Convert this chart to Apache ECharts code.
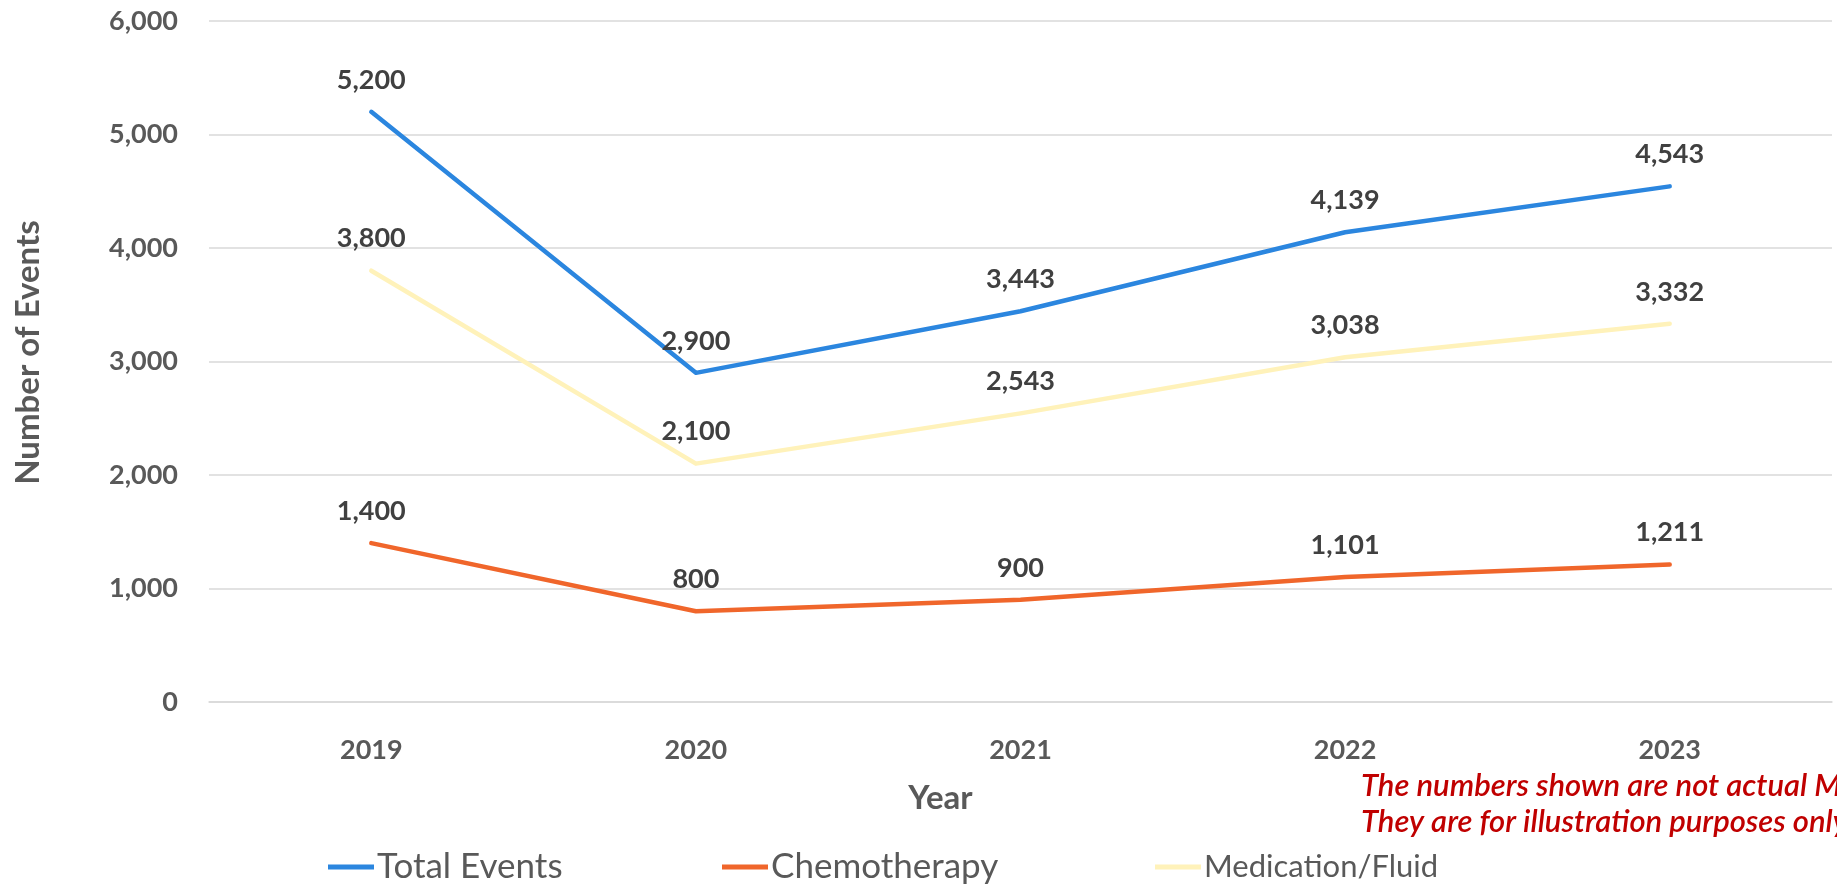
<!DOCTYPE html>
<html>
<head>
<meta charset="utf-8">
<script src="https://cdn.jsdelivr.net/npm/echarts@6/dist/echarts.min.js"></script>
<style>
  html, body { margin: 0; padding: 0; background: #ffffff; }
  #chart { width: 1837px; height: 886px; }
</style>
</head>
<body>
<div id="chart"></div>
<script>
// Yearly event counts by category
const years = ['2019', '2020', '2021', '2022', '2023'];
const totalEvents = [5200, 2900, 3443, 4139, 4543];
const chemotherapy = [1400, 800, 900, 1101, 1211];
const medicationFluid = [3800, 2100, 2543, 3038, 3332];
const seriesNames = ['Total Events', 'Chemotherapy', 'Medication/Fluid'];
const noteLines = [
  'The numbers shown are not actual M.D. data.',
  'They are for illustration purposes only.'
];

const FONT = 'Lato, "Open Sans", "Noto Sans", sans-serif';
const colors = ['#2B86DF', '#F0662B', '#FFF2BA'];
const fmt = v => v.toLocaleString('en-US');

const chart = echarts.init(document.getElementById('chart'));

function lineSeries(name, data, color) {
  return {
    name: name,
    type: 'line',
    data: data,
    symbol: 'circle',
    symbolSize: 1,
    showSymbol: true,
    lineStyle: { color: color, width: 4.5, cap: 'round', join: 'round' },
    itemStyle: { color: color },
    label: {
      show: true,
      position: 'top',
      distance: 18,
      formatter: p => fmt(p.value),
      color: '#404040',
      fontFamily: FONT,
      fontWeight: 'bold',
      fontSize: 27
    },
    labelLayout: { hideOverlap: false },
    emphasis: { disabled: true }
  };
}

// one legend block per series so each entry sits at its own spot
function legendItem(name, left, size) {
  return {
    data: [name],
    left: left,
    top: 863 - size / 2 - 1,
    icon: 'rect',
    itemWidth: 46,
    itemHeight: 5,
    itemGap: 0,
    textStyle: { color: '#595959', fontFamily: FONT, fontSize: size, padding: [0, 0, 0, -2] }
  };
}

chart.setOption({
  animation: false,
  color: colors,
  grid: { left: 209, right: 5, top: 21, bottom: 184, containLabel: false },
  legend: [
    legendItem(seriesNames[0], 323, 35),
    legendItem(seriesNames[1], 717, 35),
    legendItem(seriesNames[2], 1150, 31)
  ],
  xAxis: {
    type: 'category',
    data: years,
    boundaryGap: true,
    name: 'Year',
    nameLocation: 'middle',
    nameGap: 80,
    nameTextStyle: {
      color: '#595959', fontFamily: FONT, fontWeight: 'bold', fontSize: 33,
      padding: [0, 160, 0, 0]
    },
    axisLine: { show: true, lineStyle: { color: '#d9d9d9', width: 1.5 } },
    axisTick: { show: false },
    axisLabel: {
      margin: 35,
      color: '#595959', fontFamily: FONT, fontWeight: 'bold', fontSize: 27
    }
  },
  yAxis: {
    type: 'value',
    min: 0,
    max: 6000,
    interval: 1000,
    name: 'Number of Events',
    nameLocation: 'middle',
    nameGap: 164,
    nameRotate: 90,
    nameTextStyle: {
      color: '#595959', fontFamily: FONT, fontWeight: 'bold', fontSize: 33,
      padding: [0, 0, 0, 18]
    },
    axisLine: { show: false },
    axisTick: { show: false },
    splitLine: { lineStyle: { color: '#d9d9d9', width: 1.5 } },
    axisLabel: {
      margin: 31,
      formatter: v => fmt(v),
      color: '#595959', fontFamily: FONT, fontWeight: 'bold', fontSize: 27
    }
  },
  series: [
    lineSeries(seriesNames[0], totalEvents, colors[0]),
    lineSeries(seriesNames[1], chemotherapy, colors[1]),
    lineSeries(seriesNames[2], medicationFluid, colors[2])
  ],
  graphic: noteLines.map((t, i) => ({
    type: 'text',
    left: 1361,
    top: 770 + i * 36,
    silent: true,
    style: {
      text: t,
      fill: '#C00000',
      font: 'italic 600 31px ' + FONT
    }
  }))
});
</script>
</body>
</html>
